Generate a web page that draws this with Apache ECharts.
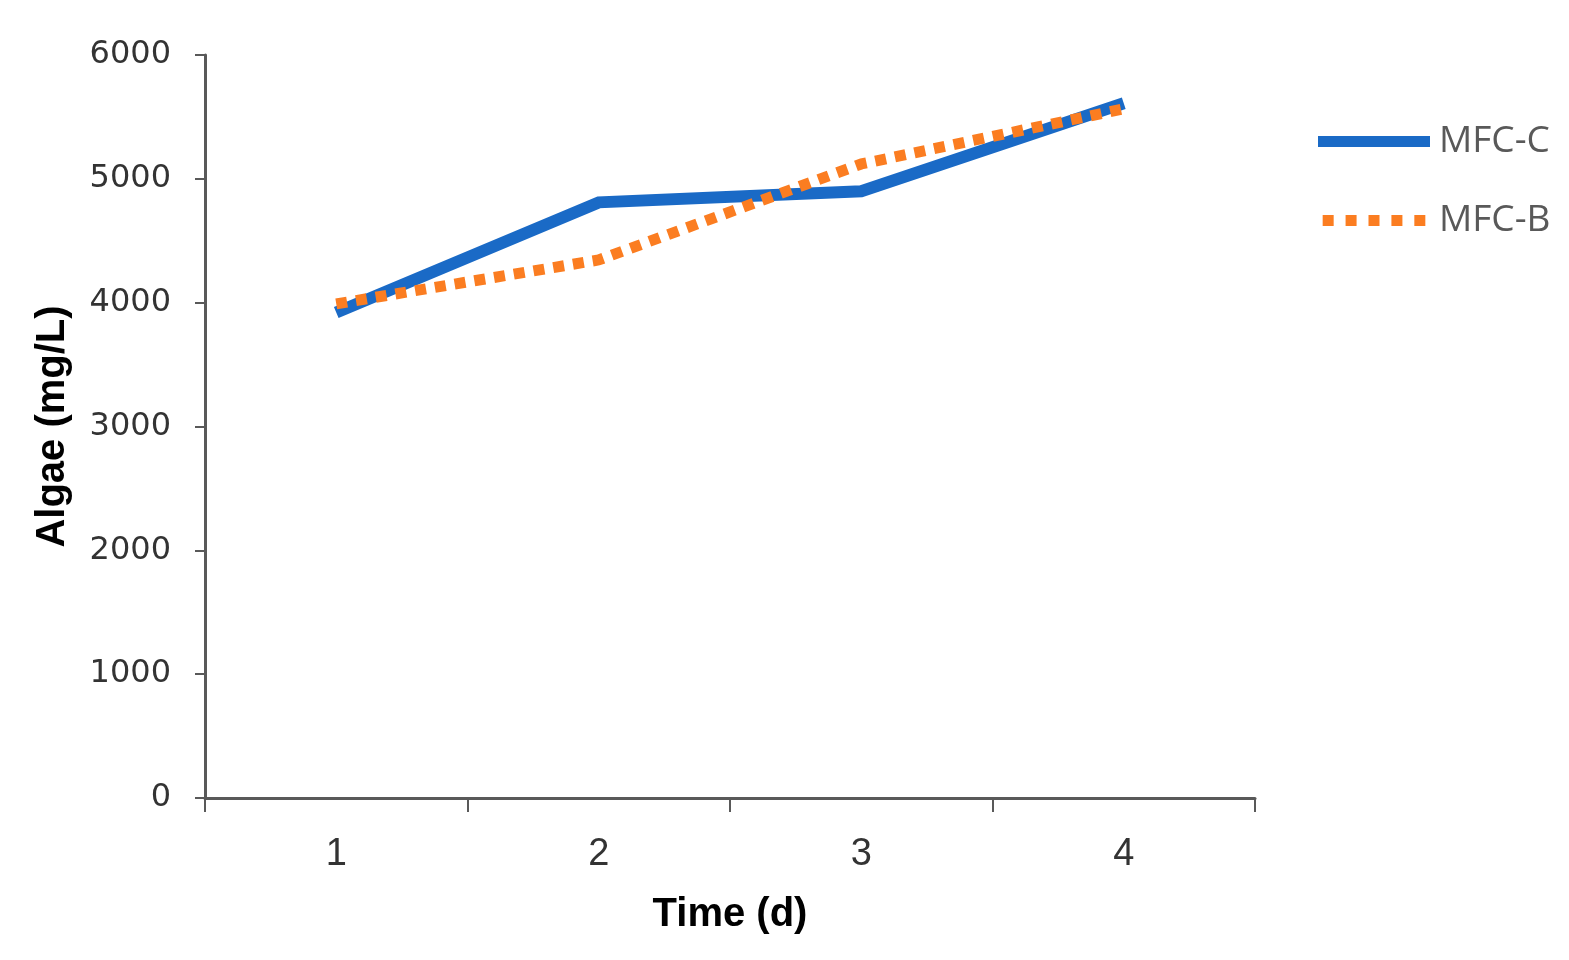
<!DOCTYPE html>
<html><head><meta charset="utf-8">
<script src="https://cdn.jsdelivr.net/npm/echarts@6/dist/echarts.min.js"></script>
<style>html,body{margin:0;padding:0;background:#fff}#c{width:1569px;height:960px}</style>
</head><body><div id="c"></div>
<script>
const categories = ['1', '2', '3', '4'];
const mfcC = [3920, 4810, 4900, 5610];
const mfcB = [3990, 4345, 5120, 5565];
const seriesNames = ['MFC-C', 'MFC-B'];

const chart = echarts.init(document.getElementById('c'), null, {renderer: 'canvas'});
const axisColor = '#595959';
const dotIcon = 'path://M0,0h12v12h-12z M25,0h12v12h-12z M50,0h12v12h-12z M75,0h12v12h-12z M100,0h12v12h-12z';
chart.setOption({
  animation: false,
  backgroundColor: '#fff',
  grid: {left: 205, top: 55, right: 314, bottom: 162, containLabel: false},
  legend: {
    orient: 'vertical', left: 1313, top: 118, itemWidth: 112, itemHeight: 11, itemGap: 42,
    textStyle: {fontFamily: 'Open Sans, Liberation Sans, sans-serif', fontSize: 37, color: '#595959', padding: [0,0,0,4]},
    data: [
      {name: seriesNames[0], icon: 'rect', itemStyle: {color: '#1a6ac6'}},
      {name: seriesNames[1], icon: dotIcon, itemStyle: {color: '#fb7d21'}}
    ]
  },
  xAxis: {
    type: 'category', data: categories, boundaryGap: true,
    name: 'Time (d)', nameLocation: 'middle', nameGap: 97,
    nameTextStyle: {fontFamily: 'Liberation Sans, Arial, sans-serif', fontWeight: 'bold', fontSize: 40, color: '#000'},
    axisLine: {lineStyle: {color: axisColor, width: 3}},
    axisTick: {show: true, length: 14, alignWithLabel: false, lineStyle: {color: axisColor, width: 2}},
    axisLabel: {margin: 38, fontFamily: 'Liberation Sans, sans-serif', fontSize: 38, color: '#333'},
    splitLine: {show: false}
  },
  yAxis: {
    type: 'value', min: 0, max: 6000, interval: 1000,
    name: 'Algae (mg/L)', nameLocation: 'middle', nameGap: 132, nameRotate: 90,
    nameTextStyle: {fontFamily: 'Liberation Sans, Arial, sans-serif', fontWeight: 'bold', fontSize: 40, color: '#000'},
    axisLine: {show: true, lineStyle: {color: axisColor, width: 3}},
    axisTick: {show: true, length: 10, lineStyle: {color: axisColor, width: 2}},
    axisLabel: {margin: 34, fontFamily: 'DejaVu Sans, Verdana, sans-serif', fontSize: 32, color: '#333',
      formatter: v => String(v)},
    splitLine: {show: false}
  },
  series: [
    {name: seriesNames[0], type: 'line', data: mfcC, symbol: 'none',
     lineStyle: {color: '#1a6ac6', width: 12, cap: 'butt', join: 'miter'}, itemStyle: {color: '#1a6ac6'}},
    {name: seriesNames[1], type: 'line', data: mfcB, symbol: 'none',
     lineStyle: {color: '#fb7d21', width: 11, type: [11, 9], cap: 'butt'}, itemStyle: {color: '#fb7d21'}}
  ]
});
</script></body></html>
